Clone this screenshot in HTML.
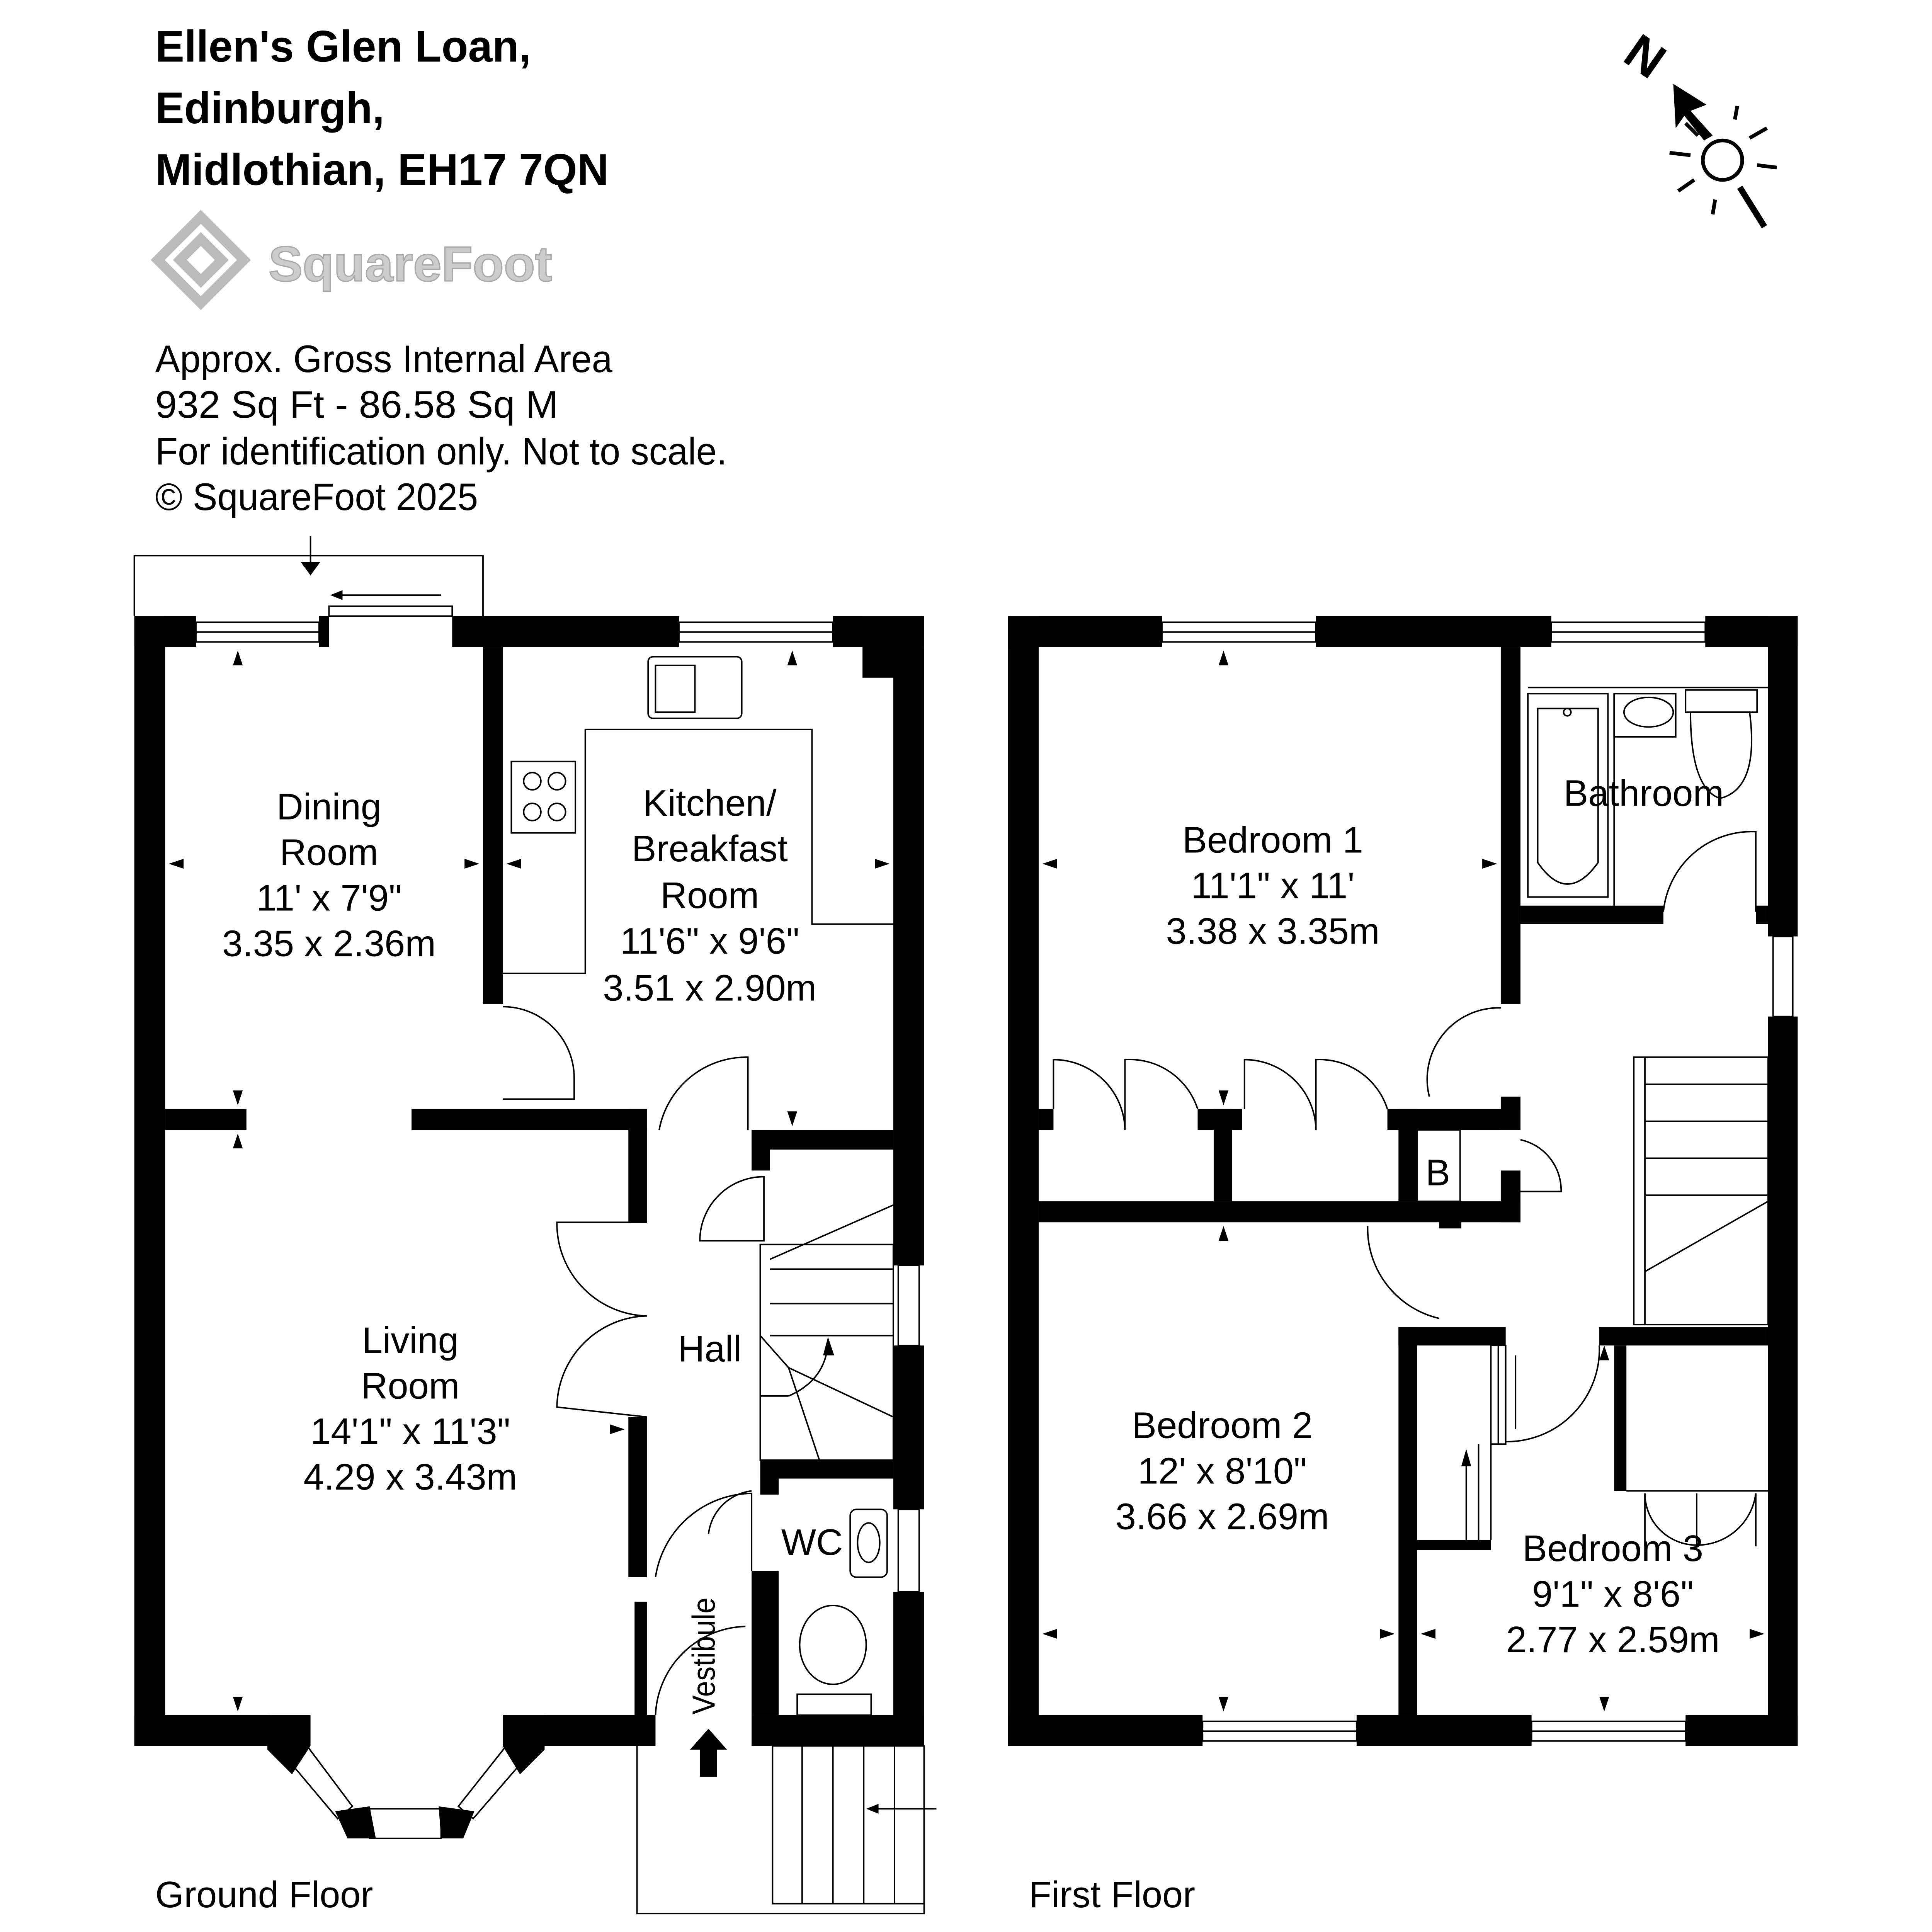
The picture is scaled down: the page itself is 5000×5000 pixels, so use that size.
<!DOCTYPE html>
<html><head><meta charset="utf-8"><style>
html,body{margin:0;padding:0;background:#fff;}
svg{display:block;}
text{font-family:"Liberation Sans",sans-serif;fill:#000;}
</style></head><body>
<svg width="5000" height="5000" viewBox="0 0 1568 1568" xmlns="http://www.w3.org/2000/svg">
<rect width="1568" height="1568" fill="#fff"/>
<g font-weight="bold" font-size="36">
<text x="126" y="50" textLength="305" lengthAdjust="spacingAndGlyphs">Ellen's Glen Loan,</text>
<text x="126" y="100" textLength="186" lengthAdjust="spacingAndGlyphs">Edinburgh,</text>
<text x="126" y="150" textLength="368" lengthAdjust="spacingAndGlyphs">Midlothian, EH17 7QN</text>
</g>
<g fill="none" stroke="#bbb" stroke-width="8">
<path d="M128 211 L163 176 L198 211 L163 246 Z"/>
<path d="M146 211 L163 194 L180 211 L163 228 Z"/>
</g>
<text x="218" y="228" font-size="40" font-weight="bold" style="fill:#ccc;stroke:#aaa;stroke-width:1" textLength="230" lengthAdjust="spacingAndGlyphs">SquareFoot</text>
<g font-size="31">
<text x="126" y="302" textLength="371" lengthAdjust="spacingAndGlyphs">Approx. Gross Internal Area</text>
<text x="126" y="339" textLength="327" lengthAdjust="spacingAndGlyphs">932 Sq Ft  -  86.58 Sq M</text>
<text x="126" y="377" textLength="464" lengthAdjust="spacingAndGlyphs">For identification only. Not to scale.</text>
<text x="126" y="414" textLength="262" lengthAdjust="spacingAndGlyphs">© SquareFoot 2025</text>
</g>
<text x="1322" y="62" font-size="40" font-weight="bold" transform="rotate(35 1340 45)">N</text>
<path d="M1358 68 L1385 85 L1372 90 L1390 110 L1383 114 L1367 94 L1360 104 Z" fill="#000"/>
<circle cx="1398" cy="130" r="16" fill="none" stroke="#000" stroke-width="3"/>
<g stroke="#000" stroke-width="3">
<line x1="1412" y1="152" x2="1432" y2="184" stroke-width="5"/>
<line x1="1355" y1="124" x2="1372" y2="126"/><line x1="1426" y1="134" x2="1442" y2="136"/>
<line x1="1362" y1="155" x2="1375" y2="146"/><line x1="1420" y1="112" x2="1434" y2="104"/>
<line x1="1392" y1="162" x2="1390" y2="174"/><line x1="1408" y1="97" x2="1410" y2="86"/>
<line x1="1368" y1="100" x2="1378" y2="110"/>
</g>
<!-- GROUND FLOOR -->
<g fill="#000">
<rect x="109" y="500" width="25" height="917"/>
<rect x="109" y="500" width="50" height="25"/>
<rect x="259" y="500" width="8" height="25"/>
<rect x="367" y="500" width="184" height="25"/>
<rect x="676" y="500" width="74" height="25"/>
<rect x="700" y="500" width="50" height="50"/>
<rect x="725" y="500" width="25" height="527"/>
<rect x="725" y="1092" width="25" height="133"/>
<rect x="725" y="1292" width="25" height="125"/>
<rect x="109" y="1392" width="110" height="25"/>
<rect x="410" y="1392" width="122" height="25"/>
<rect x="610" y="1392" width="140" height="25"/>
<polygon points="217,1392 252,1392 252,1417 237,1440 217,1420"/>
<polygon points="408,1392 442,1392 442,1420 422,1440 408,1417"/>
<polygon points="272,1470 300,1466 305,1492 282,1492"/>
<polygon points="356,1466 385,1470 376,1492 358,1492"/>
<rect x="392" y="525" width="16" height="290"/>
<rect x="134" y="900" width="66" height="17"/>
<rect x="334" y="900" width="191" height="17"/>
<rect x="510" y="900" width="15" height="92"/>
<rect x="510" y="1150" width="15" height="130"/>
<rect x="515" y="1300" width="10" height="92"/>
<rect x="610" y="917" width="115" height="16"/>
<rect x="610" y="917" width="15" height="33"/>
<rect x="617" y="1185" width="108" height="15"/>
<rect x="617" y="1185" width="15" height="28"/>
<rect x="610" y="1275" width="22" height="117"/>
</g>
<g fill="none" stroke="#000" stroke-width="1.2">
<rect x="159" y="505" width="100" height="16"/><line x1="159" y1="513" x2="259" y2="513"/>
<rect x="551" y="505" width="125" height="16"/><line x1="551" y1="513" x2="676" y2="513"/>
<rect x="729" y="1027" width="17" height="65"/><rect x="729" y="1225" width="17" height="67"/>
<rect x="267" y="492" width="100" height="8"/>
<polyline points="109,500 109,451 392,451 392,500"/>
<line x1="252" y1="435" x2="252" y2="465"/>
<line x1="270" y1="483" x2="358" y2="483"/>
<polygon points="237,1432 274,1476 286,1466 250,1418"/>
<polygon points="422,1432 384,1476 372,1466 410,1418"/>
<rect x="300" y="1468" width="58" height="24"/>
<polyline points="408,790 475,790 475,592 659,592 659,750 725,750"/>
<rect x="415" y="618" width="52" height="58"/>
<circle cx="432" cy="634" r="7"/><circle cx="452" cy="634" r="7"/><circle cx="432" cy="659" r="7"/><circle cx="452" cy="659" r="7"/>
<rect x="526" y="533" width="76" height="50" rx="4"/><rect x="532" y="540" width="32" height="38"/>
<path d="M408 817 A58 58 0 0 1 466 875 L466 892 L408 892"/>
<path d="M535 917 A72 72 0 0 1 607 858 L607 917"/>
<path d="M525 992 L452 992 A75 75 0 0 0 525 1068"/>
<path d="M525 1150 L452 1142 A75 75 0 0 1 525 1068"/>
<path d="M568 1007 A52 52 0 0 1 620 955 L620 1007 Z"/>
<path d="M532 1280 A80 80 0 0 1 610 1212 L610 1275"/>
<path d="M575 1245 A40 40 0 0 1 610 1210"/>
<path d="M532 1392 A75 75 0 0 1 605 1320"/>
<rect x="617" y="1010" width="108" height="175"/>
<line x1="625" y1="1030" x2="725" y2="1030"/><line x1="625" y1="1058" x2="725" y2="1058"/>
<line x1="625" y1="1084" x2="725" y2="1084"/><line x1="617" y1="1133" x2="640" y2="1133"/>
<line x1="640" y1="1110" x2="665" y2="1185"/><line x1="640" y1="1110" x2="725" y2="1150"/>
<line x1="617" y1="1084" x2="640" y2="1110"/>
<line x1="625" y1="1022" x2="725" y2="978"/>
<path d="M640 1133 Q670 1120 672 1090"/>
<rect x="690" y="1225" width="30" height="55" rx="5"/><ellipse cx="705" cy="1252" rx="9" ry="16"/>
<ellipse cx="676" cy="1335" rx="27" ry="32"/><rect x="647" y="1375" width="60" height="17"/>
<polyline points="517,1417 517,1553 750,1553 750,1417"/>
<rect x="627" y="1417" width="123" height="128"/>
<line x1="651" y1="1417" x2="651" y2="1545"/><line x1="676" y1="1417" x2="676" y2="1545"/>
<line x1="701" y1="1417" x2="701" y2="1545"/><line x1="726" y1="1417" x2="726" y2="1545"/>
<line x1="705" y1="1468" x2="760" y2="1468"/>
</g>
<g fill="#000">
<polygon points="575,1403 590,1420 582,1420 582,1442 568,1442 568,1420 560,1420"/>
<polygon points="244,456 260,456 252,467"/>
<polygon points="268,483 278,479 278,487"/>
<polygon points="672,1085 668,1100 677,1100"/>
<polygon points="703,1468 713,1464 713,1472"/>
<polygon points="193,528 189,540 197,540"/><polygon points="643,528 639,540 647,540"/>
<polygon points="137,701 149,697 149,705"/><polygon points="389,701 377,697 377,705"/>
<polygon points="411,701 423,697 423,705"/><polygon points="722,701 710,697 710,705"/>
<polygon points="193,897 189,885 197,885"/><polygon points="193,920 189,932 197,932"/>
<polygon points="643,914 639,902 647,902"/><polygon points="507,1160 495,1156 495,1164"/>
<polygon points="193,1389 189,1377 197,1377"/>
</g>
<g font-size="30" text-anchor="middle">
<text x="267" y="665">Dining</text><text x="267" y="702">Room</text>
<text x="267" y="739">11' x 7'9"</text><text x="267" y="776">3.35 x 2.36m</text>
<text x="576" y="662">Kitchen/</text><text x="576" y="699">Breakfast</text><text x="576" y="737">Room</text>
<text x="576" y="774">11'6" x 9'6"</text><text x="576" y="812">3.51 x 2.90m</text>
<text x="333" y="1098">Living</text><text x="333" y="1135">Room</text>
<text x="333" y="1172">14'1" x 11'3"</text><text x="333" y="1209">4.29 x 3.43m</text>
<text x="576" y="1105">Hall</text><text x="659" y="1262">WC</text>
</g>
<text x="580" y="1344" font-size="26" text-anchor="middle" transform="rotate(-90 580 1344)" textLength="95" lengthAdjust="spacingAndGlyphs">Vestibule</text>
<text x="126" y="1548" font-size="30">Ground Floor</text>
<!-- FIRST FLOOR -->
<g fill="#000">
<rect x="818" y="500" width="25" height="917"/>
<rect x="818" y="500" width="125" height="25"/>
<rect x="1068" y="500" width="191" height="25"/>
<rect x="1384" y="500" width="75" height="25"/>
<rect x="1435" y="500" width="24" height="260"/>
<rect x="1435" y="825" width="24" height="592"/>
<rect x="818" y="1392" width="158" height="25"/>
<rect x="1101" y="1392" width="142" height="25"/>
<rect x="1368" y="1392" width="91" height="25"/>
<rect x="1218" y="525" width="16" height="290"/>
<rect x="1234" y="735" width="116" height="15"/>
<rect x="1425" y="735" width="10" height="15"/>
<rect x="843" y="975" width="391" height="17"/>
<rect x="843" y="900" width="12" height="17"/>
<rect x="972" y="900" width="36" height="17"/>
<rect x="985" y="900" width="15" height="75"/>
<rect x="1126" y="900" width="108" height="17"/>
<rect x="1135" y="900" width="15" height="75"/>
<rect x="1218" y="890" width="16" height="27"/>
<rect x="1218" y="950" width="16" height="42"/>
<rect x="1168" y="975" width="18" height="22"/>
<rect x="1135" y="1077" width="87" height="15"/>
<rect x="1135" y="1077" width="15" height="315"/>
<rect x="1298" y="1077" width="137" height="15"/>
<rect x="1150" y="1250" width="60" height="8"/>
<rect x="1310" y="1092" width="10" height="118"/>
</g>
<g fill="none" stroke="#000" stroke-width="1.2">
<rect x="943" y="505" width="125" height="16"/><line x1="943" y1="513" x2="1068" y2="513"/>
<rect x="1259" y="505" width="125" height="16"/><line x1="1259" y1="513" x2="1384" y2="513"/>
<rect x="1439" y="760" width="16" height="65"/>
<rect x="976" y="1397" width="125" height="16"/><line x1="976" y1="1405" x2="1101" y2="1405"/>
<rect x="1243" y="1397" width="125" height="16"/><line x1="1243" y1="1405" x2="1368" y2="1405"/>
<rect x="1240" y="563" width="65" height="165"/><path d="M1248 575 L1297 575 L1297 700 Q1272 735 1248 700 Z"/>
<circle cx="1272" cy="578" r="3"/>
<line x1="1240" y1="558" x2="1435" y2="558"/>
<rect x="1310" y="563" width="50" height="35"/><ellipse cx="1338" cy="578" rx="20" ry="12"/>
<rect x="1368" y="560" width="58" height="18"/><path d="M1372 578 L1420 578 Q1428 640 1396 648 Q1372 640 1372 578 Z"/>
<line x1="1310" y1="563" x2="1310" y2="735"/>
<path d="M1350 740 A72 72 0 0 1 1425 675 L1425 740"/>
<path d="M855 900 L855 860 A58 58 0 0 1 913 917"/><path d="M972 900 A58 58 0 0 0 913 860 L913 917"/>
<path d="M1010 900 L1010 860 A58 58 0 0 1 1068 917"/><path d="M1126 900 A58 58 0 0 0 1068 860 L1068 917"/>
<path d="M1160 890 A58 58 0 0 1 1218 818"/>
<rect x="1150" y="917" width="35" height="58"/>
<path d="M1234 925 A42 42 0 0 1 1267 967 L1234 967"/>
<path d="M1110 995 A75 75 0 0 0 1168 1070"/>
<path d="M1222 1170 A75 75 0 0 0 1298 1092"/>
<rect x="1210" y="1092" width="12" height="80"/><line x1="1216" y1="1092" x2="1216" y2="1172"/>
<line x1="1210" y1="1172" x2="1210" y2="1250"/><line x1="1200" y1="1172" x2="1200" y2="1250"/>
<line x1="1230" y1="1100" x2="1230" y2="1160"/>
<line x1="1320" y1="1210" x2="1435" y2="1210"/>
<path d="M1335 1212 L1335 1255 M1335 1212 A42 42 0 0 0 1377 1254"/>
<path d="M1425 1212 L1425 1255 M1425 1212 A48 48 0 0 1 1377 1254"/>
<line x1="1377" y1="1212" x2="1377" y2="1254"/>
<rect x="1326" y="858" width="109" height="217"/>
<line x1="1335" y1="858" x2="1335" y2="1075"/>
<line x1="1335" y1="880" x2="1435" y2="880"/><line x1="1335" y1="910" x2="1435" y2="910"/>
<line x1="1335" y1="940" x2="1435" y2="940"/><line x1="1335" y1="970" x2="1435" y2="970"/>
<line x1="1335" y1="1032" x2="1435" y2="975"/>
<line x1="1190" y1="1180" x2="1190" y2="1250"/>
</g>
<g fill="#000">
<polygon points="1190,1176 1186,1190 1194,1190"/>
<polygon points="993,528 989,540 997,540"/><polygon points="1302,1092 1298,1104 1306,1104"/>
<polygon points="846,701 858,697 858,705"/><polygon points="1215,701 1203,697 1203,705"/>
<polygon points="993,897 989,885 997,885"/><polygon points="993,995 989,1007 997,1007"/>
<polygon points="846,1326 858,1322 858,1330"/><polygon points="1132,1326 1120,1322 1120,1330"/>
<polygon points="1153,1326 1165,1322 1165,1330"/><polygon points="1432,1326 1420,1322 1420,1330"/>
<polygon points="993,1389 989,1377 997,1377"/><polygon points="1302,1389 1298,1377 1306,1377"/>
</g>
<g font-size="30" text-anchor="middle">
<text x="1033" y="692">Bedroom 1</text><text x="1033" y="729">11'1" x 11'</text><text x="1033" y="766">3.38 x 3.35m</text>
<text x="1334" y="654">Bathroom</text>
<text x="1167" y="962">B</text>
<text x="992" y="1167">Bedroom 2</text><text x="992" y="1204">12' x 8'10"</text><text x="992" y="1241">3.66 x 2.69m</text>
<text x="1309" y="1267">Bedroom 3</text><text x="1309" y="1304">9'1" x 8'6"</text><text x="1309" y="1341">2.77 x 2.59m</text>
</g>
<text x="835" y="1548" font-size="30">First Floor</text>
</svg>
</body></html>
